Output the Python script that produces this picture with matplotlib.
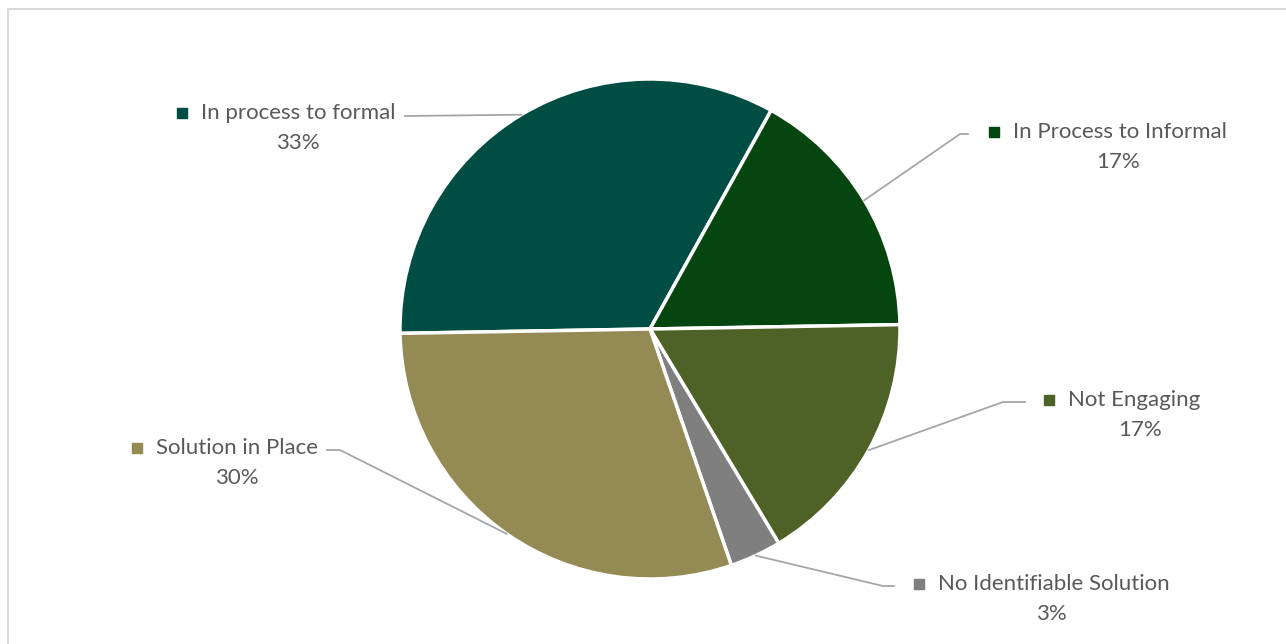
import numpy as np
import matplotlib.pyplot as plt
from matplotlib.patches import Rectangle

# Data (counts out of 30 responses)
categories = ["In process to formal", "In Process to Informal", "Not Engaging",
              "No Identifiable Solution", "Solution in Place"]
counts = [10, 5, 5, 1, 9]
pct_labels = ["33%", "17%", "17%", "3%", "30%"]
colors = ["#004D44", "#054510", "#4E6228", "#7F7F7F", "#948A54"]

W, H = 1286, 644


def px(x, y):
    # convert image pixel coords (y down) to data coords (y up)
    return x, H - y


fig = plt.figure(figsize=(W / 100, H / 100), dpi=100)
ax = fig.add_axes([0, 0, 1, 1])

# chart border (cropped)
ax.add_patch(Rectangle(px(8, 700), 1400, 691, fill=False,
                       edgecolor="#D9D9D9", linewidth=1.5))

cx, cy = px(650, 329)
R = 250
wedges, _ = ax.pie(counts, colors=colors, startangle=181, counterclock=False,
                   center=(cx, cy), radius=R, frame=True,
                   wedgeprops=dict(edgecolor="white", linewidth=2.5))
ax.set_xlim(0, W)
ax.set_ylim(0, H)
ax.set_aspect("equal")
ax.axis("off")

# label layout: text left x, text y, elbow point, line end point
layout = [
    dict(tx=201, ty=113, elbow=None, end=(405, 116), pct=(298, 143)),
    dict(tx=1013, ty=132, elbow=(960, 134), end=(968, 134), pct=(1118, 162)),
    dict(tx=1068, ty=400, elbow=(1003, 402), end=(1025, 402), pct=(1140, 430)),
    dict(tx=938, ty=584, elbow=(883, 586), end=(894, 586), pct=(1051, 614)),
    dict(tx=156, ty=448, elbow=(340, 450), end=(327, 450), pct=(237, 478)),
]

txt = dict(family="Lato", fontsize=16, color="#595959", va="center")
for w, lab, pct, col, L in zip(wedges, categories, pct_labels, colors, layout):
    mid = np.deg2rad((w.theta1 + w.theta2) / 2)
    ex, ey = cx + R * np.cos(mid), cy + R * np.sin(mid)
    pts = [(ex, ey)]
    if L["elbow"] is not None:
        pts.append(px(*L["elbow"]))
    pts.append(px(*L["end"]))
    xs, ys = zip(*pts)
    ax.plot(xs, ys, color="#A6A6A6", linewidth=1.3)
    ax.scatter(*px(L["tx"] - 19, L["ty"]), marker="s", s=45, color=col)
    ax.text(*px(L["tx"], L["ty"]), lab, ha="left", **txt)
    ax.text(*px(*L["pct"]), pct, ha="center", **txt)

fig.savefig("out.png", dpi=100)
